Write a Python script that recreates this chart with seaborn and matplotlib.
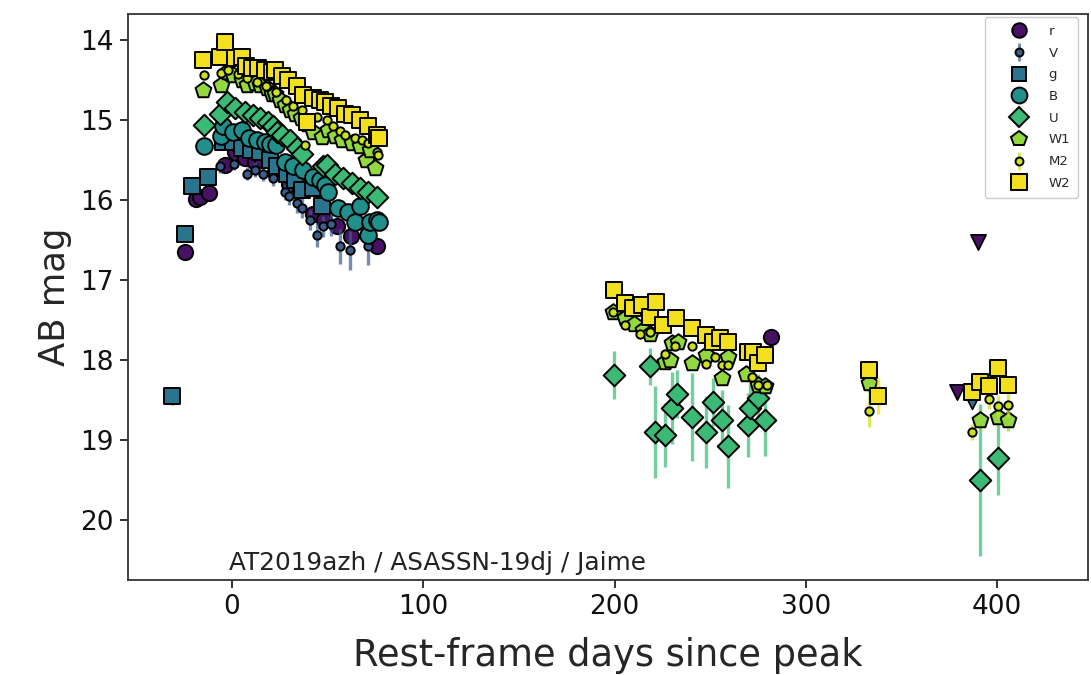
import numpy as np
import matplotlib
matplotlib.use("Agg")
import matplotlib.pyplot as plt
from matplotlib.lines import Line2D
import seaborn as sns

# ---- photometry (rest-frame days since peak, AB mag, 1-sigma error) ----
r_days = [-24.6, -18.8, -16.7, -12.0, -3.7, 1.6, 7.0, 12.0, 15.5, 22.5, 30.0, 37.0,
          42.5, 48.0, 54.7, 62.0, 75.6, 281.8]
r_mags = [16.65, 15.99, 15.96, 15.91, 15.56, 15.40, 15.48, 15.52, 15.50, 15.65, 15.80,
          15.88, 16.17, 16.25, 16.33, 16.45, 16.58, 17.71]
r_errs = [0.04] * 18

V_days = [-6.3, 1.0, 7.7, 12.0, 16.4, 21.6, 27.7, 30.0, 33.8, 36.4, 41.0, 44.3, 47.7,
          52.0, 56.5, 61.7, 71.3]
V_mags = [15.58, 15.55, 15.67, 15.62, 15.67, 15.73, 15.90, 15.95, 16.04, 16.10, 16.25,
          16.44, 16.33, 16.30, 16.58, 16.63, 16.58]
V_errs = [0.08, 0.08, 0.08, 0.09, 0.09, 0.10, 0.10, 0.11, 0.12, 0.12, 0.13, 0.15, 0.13,
          0.15, 0.22, 0.24, 0.23]

g_days = [-31.4, -24.6, -21.0, -12.4, -4.5, 0.7, 5.0, 10.0, 14.6, 19.9, 23.4, 28.6,
          33.0, 36.4, 42.5, 46.9]
g_mags = [18.45, 16.42, 15.83, 15.71, 15.27, 15.27, 15.35, 15.38, 15.40, 15.50, 15.58,
          15.67, 15.75, 15.88, 15.85, 16.08]
g_errs = [0.11, 0.04, 0.03, 0.03, 0.03, 0.03, 0.03, 0.03, 0.03, 0.03, 0.03, 0.03,
          0.03, 0.04, 0.04, 0.04]

B_days = [-14.5, -6.0, -4.5, 0.7, 5.0, 9.0, 13.0, 17.0, 20.0, 23.0, 27.7, 32.0, 37.3,
          42.5, 46.0, 48.6, 50.4, 55.6, 60.8, 64.3, 67.0, 71.3, 72.2, 75.6, 77.0]
B_mags = [15.33, 15.20, 15.08, 15.15, 15.12, 15.22, 15.25, 15.28, 15.30, 15.31, 15.52,
          15.58, 15.62, 15.71, 15.75, 15.81, 15.90, 16.10, 16.15, 16.27, 16.08, 16.44,
          16.27, 16.25, 16.27]
B_errs = [0.04] * 25

U_days = [-14.5, -6.3, -2.8, 1.6, 6.8, 11.1, 14.6, 19.0, 21.6, 23.4, 26.0, 30.3, 33.8,
          36.4, 47.7, 49.5, 53.9, 58.2, 62.6, 66.9, 71.3, 75.6,
          199.7, 218.6, 221.2, 226.4, 229.9, 232.8, 240.4, 248.0, 251.7, 256.0, 259.5,
          270.0, 270.8, 275.0, 278.7, 391.0, 400.7]
U_mags = [15.06, 14.93, 14.77, 14.85, 14.90, 14.94, 14.98, 15.02, 15.08, 15.15, 15.19,
          15.25, 15.35, 15.42, 15.58, 15.56, 15.67, 15.73, 15.79, 15.85, 15.90, 15.96,
          18.19, 18.08, 18.90, 18.94, 18.60, 18.42, 18.71, 18.90, 18.52, 18.75, 19.08,
          18.81, 18.60, 18.48, 18.75, 19.50, 19.23]
U_errs = [0.04] * 22 + [0.30, 0.23, 0.58, 0.40, 0.45, 0.30, 0.55, 0.45, 0.30, 0.38,
                        0.52, 0.40, 0.30, 0.30, 0.45, 0.95, 0.46]

W1_days = [-15.0, -6.0, -2.8, 0.7, 5.0, 7.7, 12.0, 14.6, 18.1, 20.7, 22.5, 25.0, 27.7,
           30.3, 33.0, 36.0, 39.0, 42.5, 46.9, 50.4, 54.0, 57.4, 62.6, 66.9, 70.0,
           72.2, 75.0,
           199.4, 205.5, 210.0, 215.0, 218.6, 226.4, 229.0, 229.9, 233.4, 240.4, 248.0,
           256.0, 259.5, 269.0, 275.0, 278.7, 333.0, 391.0, 400.7, 405.8]
W1_mags = [14.63, 14.56, 14.40, 14.44, 14.50, 14.56, 14.54, 14.56, 14.60, 14.67, 14.67,
           14.75, 14.81, 14.88, 14.92, 14.98, 15.05, 15.15, 15.21, 15.13, 15.20, 15.25,
           15.29, 15.33, 15.50, 15.38, 15.60,
           17.40, 17.48, 17.55, 17.63, 17.67, 18.02, 18.00, 17.79, 17.77, 18.04, 17.94,
           18.23, 17.96, 18.17, 18.31, 18.33, 18.29, 18.75, 18.71, 18.75]
W1_errs = [0.04] * 27 + [0.06] * 16 + [0.12, 0.14, 0.12, 0.14]

M2_days = [-14.6, -6.0, -2.0, 3.0, 8.0, 13.0, 18.0, 23.0, 28.0, 32.0, 36.4, 38.0, 44.3,
           49.5, 53.0, 56.5, 59.0, 64.3, 67.8, 71.3, 75.6, 76.5,
           199.0, 205.5, 213.3, 218.6, 226.4, 231.6, 240.4, 248.0, 252.5, 256.0, 259.5,
           271.7, 275.2, 279.6, 333.0, 386.7, 395.8, 400.7, 405.6]
M2_mags = [14.44, 14.41, 14.38, 14.42, 14.48, 14.52, 14.58, 14.65, 14.75, 14.82, 14.88,
           15.31, 14.96, 15.00, 15.08, 15.14, 15.19, 15.23, 15.25, 15.29, 15.40, 15.44,
           17.40, 17.56, 17.67, 17.65, 17.92, 17.83, 17.83, 18.05, 17.96, 18.06, 18.06,
           18.21, 18.31, 18.31, 18.64, 18.90, 18.49, 18.58, 18.56]
M2_errs = [0.04] * 22 + [0.05] * 14 + [0.20, 0.10, 0.12, 0.14, 0.15]

W2_days = [-15.0, -6.3, -3.5, 1.6, 5.4, 7.1, 10.3, 13.8, 17.3, 20.7, 22.5, 26.0, 29.5,
           33.8, 37.3, 39.0, 42.5, 46.0, 48.6, 52.0, 55.6, 59.0, 62.6, 66.9, 71.3,
           75.6, 77.0,
           199.7, 205.5, 209.8, 214.2, 218.6, 221.7, 225.5, 232.2, 240.4, 248.0, 251.7,
           255.0, 259.5, 270.0, 272.6, 275.2, 278.7, 333.0, 338.0, 386.7, 391.0, 395.8,
           400.7, 405.6]
W2_mags = [14.25, 14.21, 14.02, 14.23, 14.21, 14.33, 14.35, 14.35, 14.37, 14.40, 14.38,
           14.45, 14.50, 14.58, 14.69, 15.02, 14.73, 14.75, 14.77, 14.82, 14.85, 14.92,
           14.94, 15.00, 15.08, 15.19, 15.22,
           17.13, 17.29, 17.35, 17.31, 17.46, 17.27, 17.56, 17.48, 17.60, 17.69, 17.77,
           17.73, 17.77, 17.90, 17.90, 18.04, 17.94, 18.13, 18.45, 18.40, 18.27, 18.33,
           18.10, 18.31]
W2_errs = [0.04] * 27 + [0.05] * 17 + [0.08, 0.22, 0.08, 0.08, 0.08, 0.08, 0.08]

# upper limits
r_lim_days = [379.2, 390.0]
r_lim_mags = [18.40, 16.52]
g_lim_days = [387.0]
g_lim_mags = [18.52]

bands = ["r", "V", "g", "B", "U", "W1", "M2", "W2"]
band_colors = {"r": "#471164", "V": "#3b5e8e", "g": "#2a748e", "B": "#21908d",
               "U": "#3bba75", "W1": "#94d840", "M2": "#cde11d", "W2": "#f2df1e"}
band_markers = {"r": "o", "V": "o", "g": "s", "B": "o", "U": "D", "W1": "p",
                "M2": "o", "W2": "s"}
band_ms = {"r": 11, "V": 6, "g": 11, "B": 12, "U": 11, "W1": 12, "M2": 6, "W2": 12}
data = {
    "r": (r_days, r_mags, r_errs), "V": (V_days, V_mags, V_errs),
    "g": (g_days, g_mags, g_errs), "B": (B_days, B_mags, B_errs),
    "U": (U_days, U_mags, U_errs), "W1": (W1_days, W1_mags, W1_errs),
    "M2": (M2_days, M2_mags, M2_errs), "W2": (W2_days, W2_mags, W2_errs),
}

sns.set_style("ticks")
plt.rcParams["font.family"] = ["DejaVu Sans"]

fig = plt.figure(figsize=(10.91, 6.75), dpi=100)
ax = fig.add_axes([0.1173, 0.1407, 0.8800, 0.8385])

for i, b in enumerate(bands):
    d, m, e = data[b]
    ax.errorbar(d, m, yerr=e, fmt="none", ecolor=band_colors[b], elinewidth=2.4,
                alpha=0.7, capsize=0, zorder=2 + 2 * i)
    sns.scatterplot(x=d, y=m, ax=ax, marker=band_markers[b], s=band_ms[b] ** 2,
                    color=band_colors[b], edgecolor="black", linewidth=1.4,
                    legend=False, zorder=3 + 2 * i)

sns.scatterplot(x=r_lim_days, y=r_lim_mags, ax=ax, marker="v", s=11 ** 2,
                color=band_colors["r"], edgecolor="black", linewidth=1.2,
                legend=False, zorder=4)
sns.scatterplot(x=g_lim_days, y=g_lim_mags, ax=ax, marker="v", s=10 ** 2,
                color=band_colors["g"], edgecolor="black", linewidth=1.2,
                legend=False, zorder=6)

ax.set_xlim(-54.4, 447.6)
ax.set_ylim(20.75, 13.675)
ax.set_xticks([0, 100, 200, 300, 400])
ax.set_yticks([14, 15, 16, 17, 18, 19, 20])
ax.tick_params(axis="both", direction="out", length=6, width=1.2, labelsize=19,
               colors="#111111", pad=4)
for sp in ax.spines.values():
    sp.set_color("#333333")
    sp.set_linewidth(1.3)

ax.set_xlabel("Rest-frame days since peak", fontsize=26.5, labelpad=12)
ax.set_ylabel("AB mag", fontsize=25.5, labelpad=6)
ax.text(0.105, 0.008, "AT2019azh / ASASSN-19dj / Jaime", transform=ax.transAxes,
        fontsize=17.8, ha="left", va="bottom", color="#222222")

# legend: marker handles, with a vertical bar for the error-bar bands
handles = []
for b in bands:
    mk = Line2D([], [], linestyle="none", marker=band_markers[b],
                markersize=band_ms[b] * 0.95, markerfacecolor=band_colors[b],
                markeredgecolor="black", markeredgewidth=1.4)
    if b in ("V", "M2"):
        bar = Line2D([], [], linestyle="none", marker="|", markersize=13,
                     markeredgewidth=2.2, color=band_colors[b], alpha=0.7)
        handles.append((bar, mk))
    else:
        handles.append(mk)
ax.legend(handles, bands, loc="upper right", bbox_to_anchor=(0.9896, 0.9947),
          borderaxespad=0, fontsize=9.5, labelspacing=0.66, handlelength=4.0,
          handletextpad=0.25, borderpad=0.6, frameon=True, fancybox=True,
          edgecolor="#cccccc", framealpha=1.0)

fig.savefig("out.png", dpi=100)
